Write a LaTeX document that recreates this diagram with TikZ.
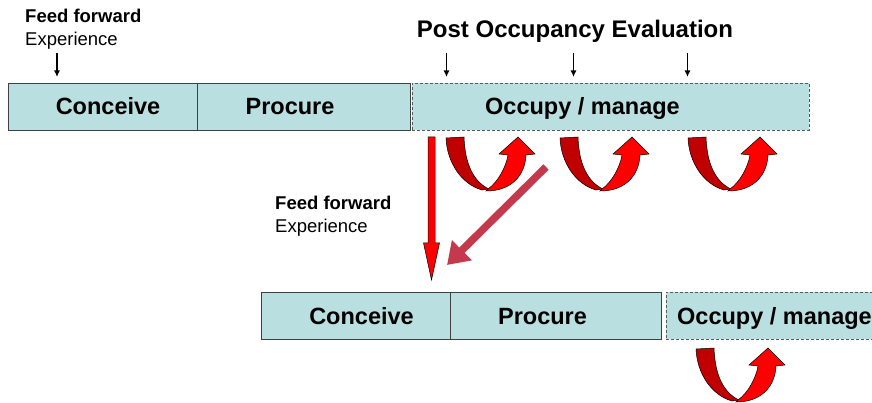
\documentclass[tikz,border=0pt]{standalone}
\usepackage{fontspec}
\setmainfont{Liberation Sans}
\usetikzlibrary{arrows.meta,calc}

\definecolor{stagefill}{HTML}{B9DFE1}
\definecolor{stageline}{HTML}{404040}
\definecolor{ribbondark}{HTML}{C00000}
\definecolor{ribbonbright}{HTML}{FF0000}
\definecolor{transfer}{HTML}{C4394C}

\tikzset{
  stage/.style={draw=stageline, fill=stagefill, line width=0.8pt,
    minimum height=47pt, inner sep=0pt, outer sep=0pt},
  openstage/.style={stage, draw=black!65, dash pattern=on 3pt off 2pt},
  stagetext/.style={font=\fontsize{23.5}{28}\selectfont\bfseries, anchor=base, inner sep=0pt},
  headtext/.style={font=\fontsize{24}{28}\selectfont\bfseries, anchor=base, inner sep=0pt},
  notebold/.style={font=\fontsize{18.5}{22}\selectfont\bfseries, anchor=base west, inner sep=0pt},
  noteplain/.style={font=\fontsize{18.5}{22}\selectfont, anchor=base west, inner sep=0pt},
  tick/.style={line width=1.2pt, -{Latex[length=6.5pt,width=6pt]}, shorten >=6pt},
  redarrow/.style={fill=ribbonbright, draw=black, line width=0.5pt},
  uturn/.pic={
    % back of the ribbon, falling from the top left
    \path[fill=ribbondark, draw=black, line width=0.5pt]
      (0,1) -- (18,0) .. controls (19,28) and (28,45) .. (43,52)
      -- (36,53) .. controls (15,47) and (1,25) .. (0,1) -- cycle;
    % front of the ribbon, rising into the arrow head
    \path[fill=ribbonbright, draw=black, line width=0.5pt]
      (42,52) .. controls (52,45) and (60,30) .. (62,18)
      -- (53,17) -- (72,0) -- (89,17) -- (80,18)
      .. controls (79,38) and (66,54) .. (40,54) -- cycle;
  }
}

\begin{document}
\begin{tikzpicture}[x=1pt,y=-1pt]
\useasboundingbox (0,0) rectangle (872,403);

% first project
\node[stage, minimum width=189pt] (c1) at (102.5,106.5) {};
\node[stage, minimum width=213pt] (p1) at (303.5,106.5) {};
\node[openstage, minimum width=397pt] (o1) at (610.5,106.5) {};
\node[stagetext] (c1t) at (108,115) {Conceive};
\node[stagetext] (p1t) at (290,115) {Procure};
\node[stagetext] (o1t) at (582.5,115) {Occupy / manage};

% second project
\node[stage, minimum width=189pt] (c2) at (355.5,315.5) {};
\node[stage, minimum width=211pt] (p2) at (555.5,315.5) {};
\node[openstage, minimum width=240pt] (o2) at (786,315.5) {};
\node[stagetext] (c2t) at (361.5,324) {Conceive};
\node[stagetext] (p2t) at (542.5,324) {Procure};
\node[stagetext, anchor=base west] (o2t) at (677,324) {Occupy / manage};

% notes
\node[notebold] (ff1) at (25,23) {Feed forward};
\node[noteplain] (ex1) at (25,45.5) {Experience};
\node[notebold] (ff2) at (275,210) {Feed forward};
\node[noteplain] (ex2) at (275,233) {Experience};
\node[headtext] (poe) at (575,38) {Post Occupancy Evaluation};

% small downward ticks
\coordinate (t0) at (57,53);
\coordinate (t1) at (446.5,53);
\coordinate (t2) at (573.5,53);
\coordinate (t3) at (687.5,53);
\draw[tick] (t0) -- (t0 |- c1.north);
\draw[tick] (t1) -- (t1 |- o1.north);
\draw[tick] (t2) -- (t2 |- o1.north);
\draw[tick] (t3) -- (t3 |- o1.north);

% evaluation loops
\pic at (446,137) {uturn};
\pic at (560,137) {uturn};
\pic at (688,137) {uturn};
\pic at (696,348) {uturn};

% experience carried down to the next project
\coordinate (vtop) at (431.5,137);
\begin{scope}[shift={(vtop)}]
  \path[redarrow] (-3.5,0) -- (3.5,0) -- (3.5,106) -- (8,106) -- (0,143)
    -- (-8,106) -- (-3.5,106) -- cycle;
\end{scope}

\coordinate (dstart) at (546,167);
\coordinate (dtip) at (447,265);
\draw[transfer, line width=7.5pt, -{Triangle[length=21pt,width=27pt]}] (dstart) -- (dtip);
\end{tikzpicture}
\end{document}
